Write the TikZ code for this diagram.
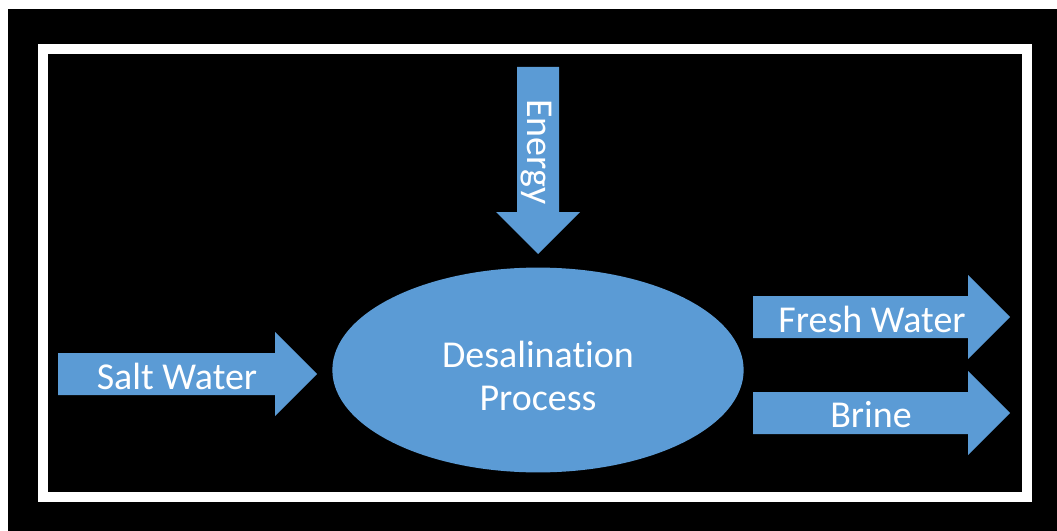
\documentclass[tikz,border=0pt]{standalone}
\usepackage{fontspec}
\setmainfont{Carlito}[Ligatures=NoCommon]
\usetikzlibrary{shapes.geometric}
\definecolor{flowblue}{RGB}{91,155,213}
\begin{document}
\begin{tikzpicture}[x=0.025cm, y=-0.025cm,
    flow/.style={fill=flowblue},
    lbl/.style={text=white, inner sep=0pt, font=\fontsize{27}{31}\selectfont}]
            % background and frame
            \fill [white] (0,0) rectangle (1057,531);
            \fill [black] (8,9) rectangle (1057,531);
            \draw [white, line width=0.25cm] (43,49.5) rectangle (1027,496.5);
            
            \node [ellipse, flow, minimum width=10.28cm, minimum height=5.12cm, inner sep=0pt] (P) at (538,370) {};
            \node [lbl, align=center] (Ptxt) at (538,376) {Desalination\\Process};
            
            % arrows
            \fill [flow] (517,67) -- (559,67) -- (559,212) -- (580,212) -- (538,254) -- (496,212) -- (517,212) -- cycle;
            \fill [flow] (58,353) -- (275,353) -- (275,332) -- (317,374) -- (275,416) -- (275,395) -- (58,395) -- cycle;
            \fill [flow] (753,296) -- (968,296) -- (968,275) -- (1010,317) -- (968,359) -- (968,338) -- (753,338) -- cycle;
            \fill [flow] (753,392) -- (968,392) -- (968,371) -- (1010,413) -- (968,455) -- (968,434) -- (753,434) -- cycle;
            
            \node [lbl, rotate=-90] (E) at (536,152) {Energy};
            \node [lbl] (S) at (177,376) {Salt Water};
            \node [lbl] (F) at (872,319) {Fresh Water};
            \node [lbl] (B) at (871,415) {Brine};
\end{tikzpicture}
\end{document}
